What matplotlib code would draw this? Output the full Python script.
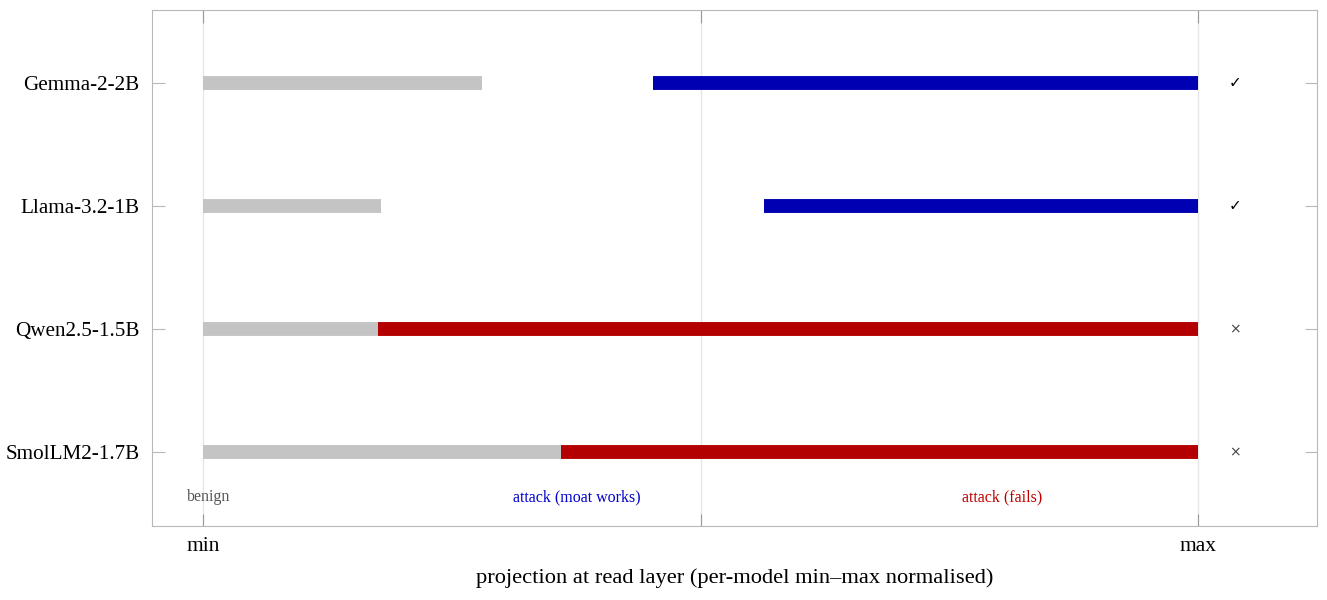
import matplotlib.pyplot as plt
import numpy as np

plt.rcParams['font.family'] = ['Liberation Serif', 'DejaVu Serif']

models = ["Gemma-2-2B", "Llama-3.2-1B", "Qwen2.5-1.5B", "SmolLM2-1.7B"]
benign_end = [0.28, 0.179, 0.176, 0.36]
attack_start = [0.452, 0.564, 0.176, 0.36]
attack_end = [1.0, 1.0, 1.0, 1.0]
moat_works = [True, True, False, False]

c_benign = '#c4c4c4'
c_works = '#0000b3'
c_fails = '#b30000'

fig = plt.figure(figsize=(13.27, 6), dpi=100)
ax = fig.add_axes([152/1327, 1-526/600, (1317-152)/1327, (526-10)/600])

y = np.arange(len(models))
lw = 10

for i in range(len(models)):
    ax.plot([0, benign_end[i]], [y[i], y[i]], color=c_benign, lw=lw, solid_capstyle='butt', zorder=2)
    col = c_works if moat_works[i] else c_fails
    ax.plot([attack_start[i], attack_end[i]], [y[i], y[i]], color=col, lw=lw, solid_capstyle='butt', zorder=3)
    mark = '\u2713' if moat_works[i] else '\u00d7'
    ax.text(1.037, y[i], mark, ha='center', va='center', fontsize=11 if moat_works[i] else 10,
            color='black' if moat_works[i] else '#444444', family=['DejaVu Sans'])

ax.text(0.006, 3.37, "benign", ha='center', va='center', fontsize=11.5, color='#555555')
ax.text(0.376, 3.37, "attack (moat works)", ha='center', va='center', fontsize=11.5, color='#0000cc')
ax.text(0.803, 3.37, "attack (fails)", ha='center', va='center', fontsize=11.5, color='#c00000')

ax.set_xlim(-0.0513, 1.1196)
ax.set_ylim(3.602, -0.593)
ax.set_xticks([0, 0.5, 1])
ax.set_xticklabels(["min", "", "max"], fontsize=15.5)
ax.set_yticks(y)
ax.set_yticklabels(models, fontsize=15.2)
ax.grid(axis='x', color='#e6e6e6', lw=1, zorder=0)
ax.set_axisbelow(True)
for s in ax.spines.values():
    s.set_color('#b8b8b8')
ax.tick_params(axis='x', direction='in', top=True, length=9, color='#999999', pad=8)
ax.tick_params(axis='y', direction='in', right=True, length=9, color='#b8b8b8', pad=9)
ax.set_xlabel("projection at read layer (per-model min\u2013max normalised)", fontsize=16.2, labelpad=9)

fig.savefig("out.png", dpi=100)
